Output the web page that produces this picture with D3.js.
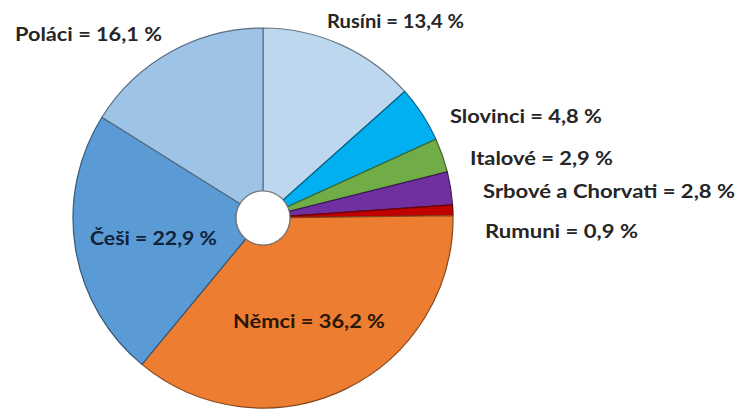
<!DOCTYPE html>
<html>
<head>
<meta charset="utf-8">
<script src="https://cdn.jsdelivr.net/npm/d3@7"></script>
<style>
  html, body { margin: 0; padding: 0; background: #fff; }
  svg { display: block; }
  .lbl { font-family: Lato, "Open Sans", sans-serif; font-weight: 700; }
</style>
</head>
<body>
<svg id="chart" width="743" height="409"></svg>
<script>
// Data (clockwise from 12 o'clock)
const categories = ["Rusíni", "Slovinci", "Italové", "Srbové a Chorvati", "Rumuni", "Němci", "Češi", "Poláci"];
const values = [13.4, 4.8, 2.9, 2.8, 0.9, 36.2, 22.9, 16.1];
const labels = ["Rusíni = 13,4 %", "Slovinci = 4,8 %", "Italové = 2,9 %", "Srbové a Chorvati = 2,8 %",
                "Rumuni = 0,9 %", "Němci = 36,2 %", "Češi = 22,9 %", "Poláci = 16,1 %"];

// Styling / layout
const colors = ["#bdd7ee", "#00b0f0", "#70ad47", "#7030a0", "#c00000", "#ed7d31", "#5b9bd5", "#9dc3e6"];
const labelPos = [[327, 28], [450, 123], [470, 165], [483, 198], [485, 238], [233, 328], [90, 245], [15, 41]];
const labelWidth = [137, 152, 143, 252, 153, 152, 127, 147];
const cx = 263, cy = 218, outerR = 190, innerR = 27;

const svg = d3.select("#chart");
const pie = d3.pie().value(d => d).sort(null);
const arc = d3.arc().innerRadius(innerR).outerRadius(outerR);
const arcs = pie(values);

const g = svg.append("g").attr("transform", `translate(${cx},${cy})`);
g.selectAll("path").data(arcs).join("path")
  .attr("d", arc)
  .attr("fill", (d, i) => colors[i])
  .attr("stroke", (d, i) => d3.color(colors[i]).darker(1.6))
  .attr("stroke-width", 1.2)
  .attr("stroke-linejoin", "round");

g.append("circle").attr("r", innerR).attr("fill", "#fff").attr("stroke", "#7a7a7a").attr("stroke-width", 1.2);

svg.selectAll("text.lbl").data(labels).join("text")
  .attr("class", "lbl")
  .attr("x", (d, i) => labelPos[i][0])
  .attr("y", (d, i) => labelPos[i][1])
  .attr("font-size", 19)
  .attr("textLength", (d, i) => labelWidth[i])
  .attr("lengthAdjust", "spacingAndGlyphs")
  .attr("fill", (d, i) => i === 5 ? "#2a1708" : (i === 6 ? "#12223a" : "#262626"))
  .text(d => d);
</script>
</body>
</html>
